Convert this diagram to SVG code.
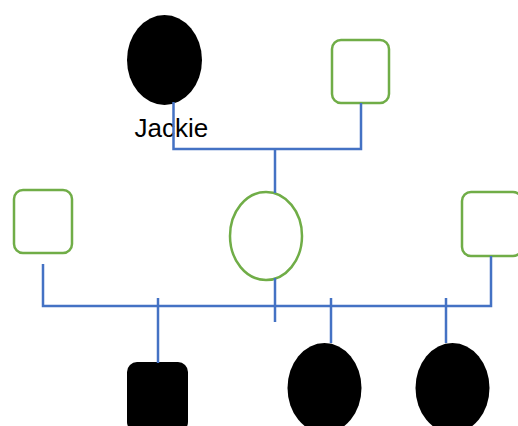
<svg xmlns="http://www.w3.org/2000/svg" width="518" height="426" viewBox="0 0 518 426">
<style>
.open{fill:#fff;stroke:#70AD47;stroke-width:2.5}
.filled{fill:#000;stroke:none}
.conn{fill:none;stroke:#4472C4;stroke-width:2.5;stroke-linecap:butt}
.lbl{font-family:"Liberation Sans",Arial,sans-serif;font-size:26px;fill:#000}
</style>
<rect width="518" height="426" fill="#fff"/>
<g id="jackie">
<ellipse class="filled" cx="164.5" cy="60" rx="37.5" ry="45"/>
<text class="lbl" x="134.5" y="137">Jackie</text>
</g>
<g id="grandfather"><rect class="open" x="332" y="40" width="57" height="63" rx="9"/></g>
<g id="left-male"><rect class="open" x="14" y="190" width="58" height="63" rx="9"/></g>
<g id="mother"><ellipse class="open" cx="266" cy="236" rx="36" ry="44"/></g>
<g id="right-male"><rect class="open" x="462" y="192" width="60" height="64" rx="9"/></g>
<g id="child-1"><rect class="filled" x="127" y="362" width="61" height="70" rx="10"/></g>
<g id="child-2"><ellipse class="filled" cx="324.5" cy="388" rx="37" ry="45"/></g>
<g id="child-3"><ellipse class="filled" cx="452.5" cy="388" rx="37" ry="45"/></g>
<g id="connectors">
<path class="conn" d="M173.5 102 V149 H361 V103"/>
<path class="conn" d="M275 149 V193"/>
<path class="conn" d="M43 264 V306 H491 V256"/>
<path class="conn" d="M275 278 V322"/>
<path class="conn" d="M158 298 V363"/>
<path class="conn" d="M331 298 V343"/>
<path class="conn" d="M446 298 V343"/>
</g>
</svg>
